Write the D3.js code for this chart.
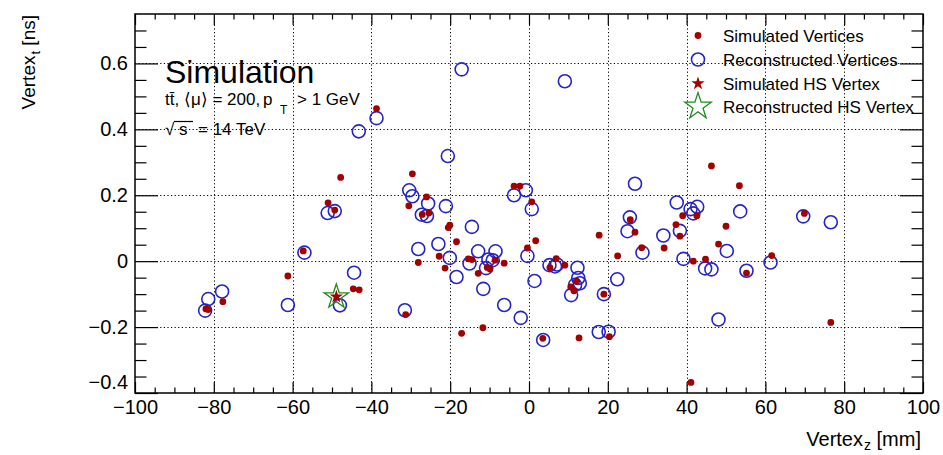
<!DOCTYPE html>
<html><head><meta charset="utf-8">
<script src="https://cdn.jsdelivr.net/npm/d3@7"></script>
<style>
body{margin:0;background:#fff}
svg{display:block;font-family:"Liberation Sans",Arial,Helvetica,sans-serif}
</style>
</head><body>
<svg id="chart" width="943" height="455"></svg>
<script>
// ---- data ----
const simZ = [-82.0,-81.4,-77.7,-61.2,-57.3,-51.0,-49.3,-47.8,-44.6,-43.1,-38.7,-31.3,-30.5,-29.6,-27.1,-25.4,-26.0,-28.1,-22.8,-21.3,-20.5,-20.1,-18.4,-17.1,-15.4,-14.5,-12.9,-11.7,-10.6,-9.9,-8.6,-6.3,-3.8,-2.3,0.7,-0.4,1.7,3.5,5.3,6.9,9.1,10.6,11.4,12.1,12.7,17.8,19.0,20.4,22.5,25.7,26.9,28.6,34.3,37.3,38.3,39.0,41.1,41.7,42.6,44.8,46.3,48.1,50.0,53.4,55.2,61.6,69.9,76.6];
const simT = [-0.145,-0.147,-0.123,-0.045,0.031,0.177,0.155,0.254,-0.084,-0.087,0.463,-0.162,0.168,0.265,0.142,0.146,0.195,-0.004,0.015,-0.021,0.102,0.109,0.059,-0.219,0.007,0.005,-0.037,-0.202,-0.019,-0.024,0.003,-0.006,0.228,0.228,0.180,0.040,0.062,-0.234,-0.020,0.008,-0.012,-0.078,-0.090,-0.061,-0.233,0.079,-0.100,-0.229,0.016,0.126,0.088,0.041,0.040,0.111,0.076,0.138,-0.368,0.000,0.138,0.006,0.289,0.052,0.106,0.229,-0.036,0.017,0.145,-0.186];
const recoZ = [-82.2,-81.4,-77.9,-61.2,-57.0,-51.1,-49.3,-48.0,-44.4,-43.2,-38.7,-31.5,-30.4,-29.6,-28.1,-27.2,-25.9,-25.6,-23.0,-21.1,-20.6,-20.1,-18.4,-17.1,-14.5,-15.1,-12.9,-11.6,-10.9,-10.3,-9.2,-8.5,-6.3,-3.8,-0.8,-2.1,0.7,-0.4,1.4,3.6,5.2,6.6,7.1,9.1,10.7,11.7,12.3,12.5,12.9,17.7,19.0,20.2,22.4,25.0,25.6,26.9,28.8,34.1,37.5,38.3,39.2,41.0,41.7,42.7,44.7,46.3,48.1,50.2,53.6,55.2,61.3,69.6,76.6];
const recoT = [-0.150,-0.115,-0.092,-0.133,0.026,0.146,0.152,-0.134,-0.035,0.394,0.434,-0.149,0.215,0.197,0.037,0.141,0.137,0.175,0.052,0.167,0.319,0.010,-0.048,0.582,0.104,-0.007,0.030,-0.084,-0.021,0.005,0.003,0.030,-0.133,0.200,0.215,-0.172,0.158,0.016,-0.060,-0.239,-0.012,-0.016,-0.010,0.546,-0.103,-0.072,-0.020,-0.051,-0.067,-0.215,-0.100,-0.214,-0.055,0.091,0.133,0.235,0.026,0.078,0.178,0.092,0.007,0.158,0.145,0.165,-0.022,-0.025,-0.177,0.031,0.151,-0.029,-0.004,0.136,0.118];
const hsSimZ = [-48.9], hsSimT = [-0.108];
const hsRecoZ = [-48.9], hsRecoT = [-0.108];

const xTickValues = [-100,-80,-60,-40,-20,0,20,40,60,80,100];
const xTickLabels = ["\u2212100","\u221280","\u221260","\u221240","\u221220","0","20","40","60","80","100"];
const yTickValues = [-0.4,-0.2,0,0.2,0.4,0.6];
const yTickLabels = ["\u22120.4","\u22120.2","0","0.2","0.4","0.6"];
const xGridValues = [-80,-60,-40,-20,0,20,40,60,80];
const yGridValues = [-0.2,0,0.2,0.4,0.6];
const legendLabels = ["Simulated Vertices","Reconstructed Vertices","Simulated HS Vertex","Reconstructed HS Vertex"];

// ---- layout ----
const svg = d3.select("#chart");
const L = 135, R = 923, T = 14, B = 393;
const x = d3.scaleLinear().domain([-100,100]).range([L,R]);
const y = d3.scaleLinear().domain([-0.4,0.75]).range([B,T]);

const RED = "#a30000", BLUE = "#2424c8", GREEN = "#1f8a1f";

// grid
const grid = svg.append("g").attr("stroke","#000").attr("stroke-width",1).attr("stroke-dasharray","1.2,2.4");
grid.selectAll("line.v").data(xGridValues).join("line").attr("class","v")
  .attr("x1",d=>Math.round(x(d))+0.5).attr("x2",d=>Math.round(x(d))+0.5).attr("y1",T).attr("y2",B);
grid.selectAll("line.h").data(yGridValues).join("line").attr("class","h")
  .attr("y1",d=>Math.round(y(d))+0.5).attr("y2",d=>Math.round(y(d))+0.5).attr("x1",L).attr("x2",R);

// axes (ticks inside)
const xMinor = d3.range(-95,100,5).filter(v=>v%20!==0);
const yMinor = d3.range(-35,75,5).map(v=>v/100).filter(v=>Math.abs(Math.round(v*100))%20!==0);
const fx = d => xTickLabels[xTickValues.indexOf(d)];
const fy = d => yTickLabels[yTickValues.findIndex(v=>Math.abs(v-d)<1e-9)];

function styleAxis(g){ g.select(".domain").remove(); g.selectAll("line").attr("stroke","#000").attr("stroke-width",1.2);
  g.selectAll("text").attr("font-family",null).attr("font-size",20).attr("fill","#000"); }

svg.append("g").attr("transform",`translate(0,${B})`)
  .call(d3.axisBottom(x).tickValues(xTickValues).tickSize(-11).tickPadding(7).tickFormat(fx)).call(styleAxis);
svg.append("g").attr("transform",`translate(0,${B})`)
  .call(d3.axisBottom(x).tickValues(xMinor).tickSize(-5.5).tickFormat("")).call(styleAxis);
svg.append("g").attr("transform",`translate(0,${T})`)
  .call(d3.axisTop(x).tickValues(xTickValues).tickSize(-11).tickFormat("")).call(styleAxis);
svg.append("g").attr("transform",`translate(0,${T})`)
  .call(d3.axisTop(x).tickValues(xMinor).tickSize(-5.5).tickFormat("")).call(styleAxis);
const yl = svg.append("g").attr("transform",`translate(${L},0)`)
  .call(d3.axisLeft(y).tickValues(yTickValues).tickSize(-23).tickPadding(7).tickFormat(fy)).call(styleAxis);
yl.selectAll(".tick").filter(d=>d===-0.4).select("text").attr("dy","-0.25em");
svg.append("g").attr("transform",`translate(${L},0)`)
  .call(d3.axisLeft(y).tickValues(yMinor).tickSize(-11.5).tickFormat("")).call(styleAxis);
svg.append("g").attr("transform",`translate(${R},0)`)
  .call(d3.axisRight(y).tickValues(yTickValues).tickSize(-23).tickFormat("")).call(styleAxis);
svg.append("g").attr("transform",`translate(${R},0)`)
  .call(d3.axisRight(y).tickValues(yMinor).tickSize(-11.5).tickFormat("")).call(styleAxis);

// frame
svg.append("rect").attr("x",L).attr("y",T).attr("width",R-L).attr("height",B-T)
  .attr("fill","none").attr("stroke","#000").attr("stroke-width",1.5);

// axis titles
const xt = svg.append("text").attr("x",921).attr("y",446).attr("text-anchor","end").attr("font-size",20);
xt.append("tspan").text("Vertex");
xt.append("tspan").attr("font-size",14).attr("dy",4).attr("dx",1).text("z");
xt.append("tspan").attr("dy",-4).text(" [mm]");
const yt = svg.append("text").attr("transform","translate(35,15) rotate(-90)").attr("text-anchor","end").attr("font-size",19);
yt.append("tspan").text("Vertex");
yt.append("tspan").attr("font-size",13).attr("dy",5).attr("dx",1).text("t");
yt.append("tspan").attr("dy",-5).text(" [ns]");

// annotations
svg.append("text").attr("x",165).attr("y",83).attr("font-size",32).text("Simulation");
const l2 = svg.append("text").attr("y",105).attr("font-size",17);
l2.append("tspan").attr("x",165).text("tt\u0304, \u27E8\u03BC\u27E9 = 200,");
l2.append("tspan").attr("x",263).text("p");
l2.append("tspan").attr("x",280).attr("dy",9).attr("font-size",12).text("T");
l2.append("tspan").attr("x",297).attr("dy",-9).text("> 1 GeV");
const l3 = svg.append("text").attr("y",135).attr("font-size",17);
l3.append("tspan").attr("x",165).text("\u221A");
l3.append("tspan").attr("x",179).text("s");
l3.append("tspan").attr("x",198).text("= 14 TeV");
svg.append("line").attr("x1",174).attr("x2",193).attr("y1",121.5).attr("y2",121.5).attr("stroke","#000").attr("stroke-width",1.2);

// marks
const star = d3.symbol().type(d3.symbolStar);
const plot = svg.append("g");
plot.selectAll("circle.reco").data(recoZ.map((z,i)=>[z,recoT[i]])).join("circle").attr("class","reco")
  .attr("cx",d=>x(d[0])).attr("cy",d=>y(d[1])).attr("r",6.5)
  .attr("fill","none").attr("stroke",BLUE).attr("stroke-width",1.6);
plot.selectAll("circle.sim").data(simZ.map((z,i)=>[z,simT[i]])).join("circle").attr("class","sim")
  .attr("cx",d=>x(d[0])).attr("cy",d=>y(d[1])).attr("r",3.4).attr("fill",RED);
plot.selectAll("path.hsreco").data(hsRecoZ.map((z,i)=>[z,hsRecoT[i]])).join("path").attr("class","hsreco")
  .attr("transform",d=>`translate(${x(d[0])},${y(d[1])})`).attr("d",star.size(185)())
  .attr("fill","none").attr("stroke",GREEN).attr("stroke-width",1.3);
plot.selectAll("path.hssim").data(hsSimZ.map((z,i)=>[z,hsSimT[i]])).join("path").attr("class","hssim")
  .attr("transform",d=>`translate(${x(d[0])},${y(d[1])})`).attr("d",star.size(55)()).attr("fill",RED);

// legend
const lg = svg.append("g");
const rowsY = [35.5, 59.5, 83.5, 106.5];
const mx = 698, tx = 723;
lg.append("circle").attr("cx",mx).attr("cy",rowsY[0]).attr("r",3.4).attr("fill",RED);
lg.append("circle").attr("cx",mx).attr("cy",rowsY[1]).attr("r",6.5).attr("fill","none").attr("stroke",BLUE).attr("stroke-width",1.6);
lg.append("path").attr("transform",`translate(${mx},${rowsY[2]})`).attr("d",star.size(55)()).attr("fill",RED);
lg.append("path").attr("transform",`translate(${mx},${rowsY[3]})`).attr("d",star.size(215)())
  .attr("fill","none").attr("stroke",GREEN).attr("stroke-width",1.3);
lg.selectAll("text").data(legendLabels).join("text")
  .attr("x",tx).attr("y",(d,i)=>rowsY[i]+6).attr("font-size",17).text(d=>d);
</script>
</body></html>
